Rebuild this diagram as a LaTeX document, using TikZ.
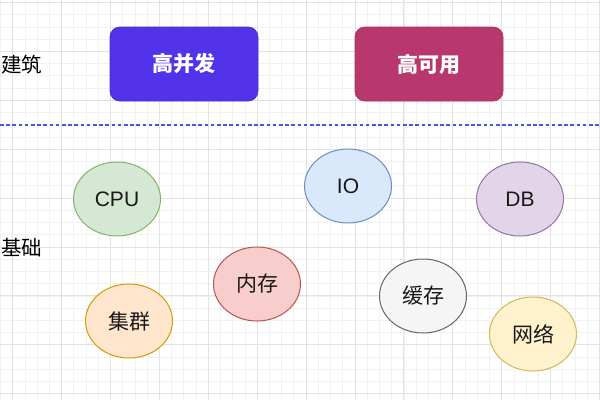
\documentclass[tikz,border=0pt]{standalone}
\usepackage{fontspec}
\usetikzlibrary{shapes.geometric}
\newfontfamily\cjk{Noto Sans CJK SC}
\newfontfamily\latf{Liberation Sans}
\definecolor{gridmajor}{HTML}{E2E2E2}
\definecolor{gridminor}{HTML}{F1F1F1}
\definecolor{boxblue}{HTML}{5233EA}
\definecolor{boxblueline}{HTML}{4A2FD0}
\definecolor{boxred}{HTML}{B8376C}
\definecolor{boxredline}{HTML}{A53262}
\definecolor{dashblue}{HTML}{3D5CE0}
\definecolor{gfill}{HTML}{D5E8D4}\definecolor{gline}{HTML}{82B366}
\definecolor{ofill}{HTML}{FFE6CC}\definecolor{oline}{HTML}{D79B00}
\definecolor{rfill}{HTML}{F8CECC}\definecolor{rline}{HTML}{B85450}
\definecolor{bfill}{HTML}{DAE8FC}\definecolor{bline}{HTML}{6C8EBF}
\definecolor{pfill}{HTML}{E1D5E7}\definecolor{pline}{HTML}{9673A6}
\definecolor{wfill}{HTML}{F5F5F5}\definecolor{wline}{HTML}{666666}
\definecolor{yfill}{HTML}{FFF2CC}\definecolor{yline}{HTML}{D6B656}
\tikzset{
  topbox/.style={draw, rounded corners=10pt, minimum width=148pt, minimum height=74pt, inner sep=0pt, line width=0.8pt, text=white, font=\cjk\bfseries\fontsize{21}{25}\selectfont},
  circ/.style={ellipse, draw, minimum width=87pt, minimum height=74pt, inner sep=0pt, line width=1pt, text=black!90, font=\cjk\fontsize{21}{25}\selectfont},
  latxt/.style={font=\latf\fontsize{21}{25}\selectfont},
  sidelabel/.style={anchor=west, inner sep=0pt, font=\cjk\fontsize{20.5}{24}\selectfont}
}
\begin{document}
\begin{tikzpicture}[x=1pt,y=-1pt]
\useasboundingbox (0,0) rectangle (600,400);
\fill[white] (0,0) rectangle (600,400);
\begin{scope}
\clip (0,0) rectangle (600,400);
\foreach \i in {-1,...,49} {
  \draw[gridminor, line width=0.8pt] ({12.7+12.225*\i},0) -- ({12.7+12.225*\i},400);
}
\foreach \i in {-1,...,33} {
  \draw[gridminor, line width=0.8pt] (0,{2.5+12.225*\i}) -- (600,{2.5+12.225*\i});
}
\foreach \i in {0,...,12} {
  \draw[gridmajor, line width=0.9pt] ({12.7+48.9*\i},0) -- ({12.7+48.9*\i},400);
}
\foreach \i in {0,...,8} {
  \draw[gridmajor, line width=0.9pt] (0,{2.5+48.9*\i}) -- (600,{2.5+48.9*\i});
}
\end{scope}

\node[sidelabel] (jz) at (1,65) {建筑};
\node[sidelabel] (jc) at (1,248) {基础};

\node[topbox, fill=boxblue, draw=boxblueline] (gbf) at (184,64) {高并发};
\node[topbox, fill=boxred, draw=boxredline] (gky) at (429,64) {高可用};

\coordinate (dl) at (0,125);
\coordinate (dr) at (600,125);
\draw[dashblue, line width=1.1pt, dash pattern=on 3.5pt off 2.7pt] (dl) -- (dr);

\node[circ, fill=gfill, draw=gline, latxt] (cpu) at (117,199) {CPU};
\node[circ, fill=ofill, draw=oline] (jq) at (129,321) {集群};
\node[circ, fill=rfill, draw=rline] (nc) at (257,284) {内存};
\node[circ, fill=bfill, draw=bline, latxt] (io) at (348,186) {IO};
\node[circ, fill=pfill, draw=pline, latxt] (db) at (520,199) {DB};
\node[circ, fill=wfill, draw=wline] (hc) at (423,296) {缓存};
\node[circ, fill=yfill, draw=yline] (wl) at (533,334) {网络};
\end{tikzpicture}
\end{document}
